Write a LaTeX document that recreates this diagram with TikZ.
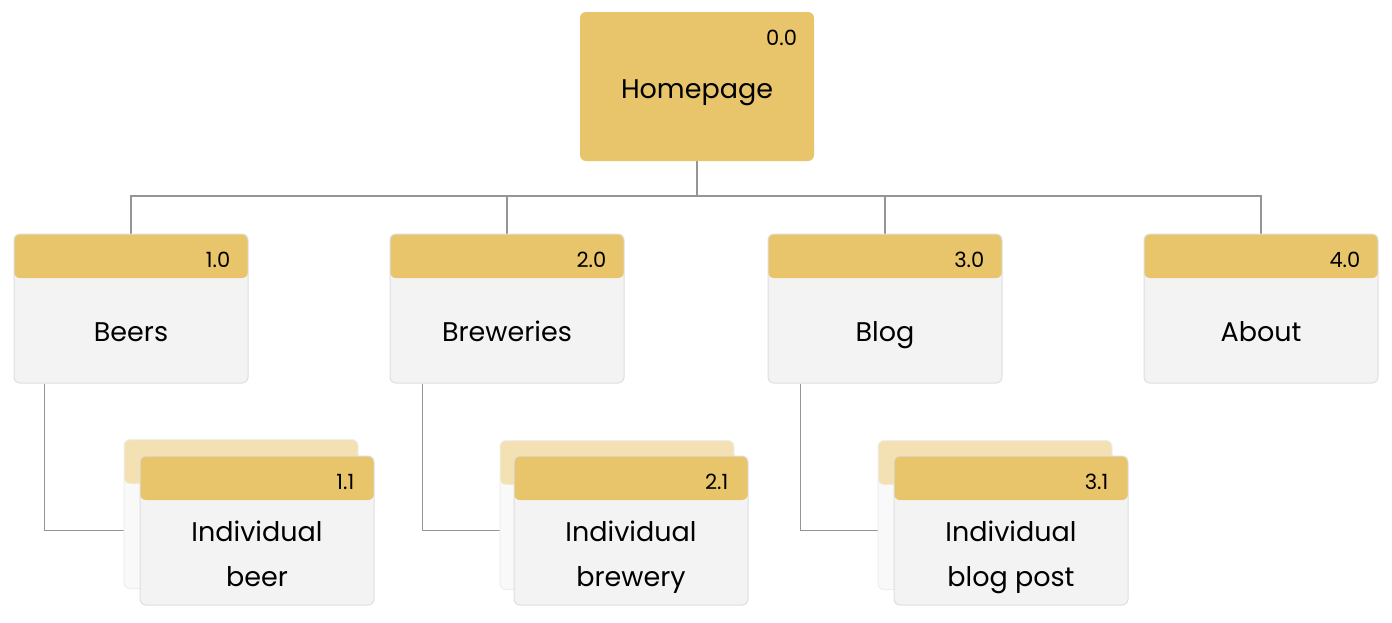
\documentclass[tikz,border=0pt]{standalone}
\usepackage{fontspec}
\setmainfont{Poppins}
\usetikzlibrary{positioning,backgrounds}
\definecolor{gold}{HTML}{E8C46B}
\definecolor{paleGold}{HTML}{F4E1B3}
\definecolor{bodyGray}{HTML}{F3F3F3}
\definecolor{paleGray}{HTML}{F9F9F9}
\definecolor{edgeGray}{HTML}{DEDEDE}
\definecolor{linkGray}{HTML}{959595}
\begin{document}
\begin{tikzpicture}
      [x=1pt, y=-1pt,
      home/.style={fill=gold, rounded corners=6pt, minimum width=234pt, minimum height=149pt, inner sep=0pt},
      page/.style={draw=edgeGray, line width=1pt, fill=bodyGray, rounded corners=6pt,
        minimum width=234pt, minimum height=149pt, inner sep=0pt,
        path picture={\fill[gold] (path picture bounding box.north west) rectangle ([yshift=-44pt]path picture bounding box.north east);}},
      ghost/.style={draw=edgeGray!50, line width=1pt, fill=paleGray, rounded corners=6pt,
        minimum width=234pt, minimum height=149pt, inner sep=0pt,
        path picture={\fill[paleGold] (path picture bounding box.north west) rectangle ([yshift=-44pt]path picture bounding box.north east);}},
      title/.style={font=\fontsize{27}{45}\selectfont, align=center, inner sep=0pt, anchor=base},
      num/.style={font=\fontsize{21}{22}\selectfont, anchor=base east, inner sep=0pt},
      link/.style={draw=linkGray, line width=1.6pt}]
      \useasboundingbox (0,0) rectangle (1392,622);
      % top level
      \node[home] (home) at (697,86.5) {};
      \node[title] (homeText) at ([yshift=-87pt]home.north) {Homepage};
      \node[num] (homeNum) at ([xshift=-17pt,yshift=-34pt]home.north east) {0.0};
      % sections
      \node[page] (beers) at (131,308.5) {};
      \node[page] (breweries) at (507,308.5) {};
      \node[page] (blog) at (885,308.5) {};
      \node[page] (about) at (1261,308.5) {};
      \foreach \n/\t/\k in {beers/Beers/1.0, breweries/Breweries/2.0, blog/Blog/3.0, about/About/4.0} {
        \node[title] (\n Text) at ([yshift=-108pt]\n.north) {\t};
        \node[num] (\n Num) at ([xshift=-18pt,yshift=-34pt]\n.north east) {\k};
      }
      % detail pages
      \node[ghost] (beerBack) at (241,514) {};
      \node[page] (beer) at (257,530.5) {};
      \node[ghost] (breweryBack) at (617,515) {};
      \node[page] (brewery) at (631,530.5) {};
      \node[ghost] (postBack) at (995,515) {};
      \node[page] (post) at (1011,530.5) {};
      \foreach \n/\t/\k in {beer/{Individual\\beer}/1.1, brewery/{Individual\\brewery}/2.1, post/{Individual\\blog post}/3.1} {
        \node[title] (\n Text) at ([yshift=-131pt]\n.north) {\t};
        \node[num] (\n Num) at ([xshift=-20pt,yshift=-34pt]\n.north east) {\k};
      }
      % connectors
      \begin{pgfonlayer}{background}
        \coordinate (bus) at (697,196);
        \draw[link] (home.south) -- (bus);
        \foreach \n in {beers,breweries,blog,about}
          \draw[link] (\n.north) |- (bus);
        \draw[link] ([xshift=31pt]beers.south west) |- (beer.west);
        \draw[link] ([xshift=33pt]breweries.south west) |- (brewery.west);
        \draw[link] ([xshift=33pt]blog.south west) |- (post.west);
      \end{pgfonlayer}
\end{tikzpicture}
\end{document}
